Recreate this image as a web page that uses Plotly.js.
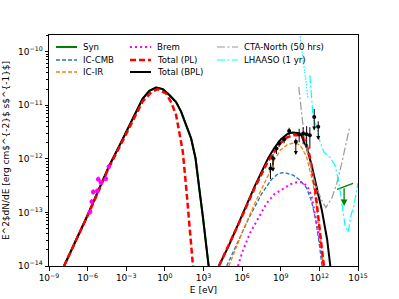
<!DOCTYPE html>
<html><head><meta charset="utf-8">
<script src="https://cdn.plot.ly/plotly-3.0.1.min.js"></script>
<style>html,body{margin:0;padding:0;background:#fff}#plot{width:399px;height:299px}</style>
</head><body><div id="plot"></div>
<script>
// ---- data: log10(E/eV) and log10(E^2 dN/dE / erg cm^-2 s^-1) ----
// Total (BPL), low-energy (synchrotron) hump
const bplLowLogE = [-7.83,-7,-6,-5,-4.32,-3.5,-3.02,-2.5,-2.0,-1.73,-1.21,-0.68,-0.17,0.35,0.87,1.26,1.65,2.04,2.38,2.56,2.69,2.95,3.21,3.4];
const bplLowLogF = [-14,-13.57,-13.05,-12.5,-12.13,-11.74,-11.51,-11.26,-11.01,-10.88,-10.73,-10.67,-10.70,-10.81,-10.94,-11.12,-11.37,-11.62,-11.99,-12.3,-12.59,-13.08,-13.58,-14];
// Total (BPL), high-energy hump
const bplHighLogE = [4.2,5,6,7,8,8.5,9,9.5,9.9,10.3,10.6,11.0,11.4,11.8,12.2,12.6,12.85];
const bplHighLogF = [-14,-13.6,-13.05,-12.5,-12.0,-11.8,-11.64,-11.54,-11.51,-11.52,-11.56,-11.78,-12.12,-12.52,-12.97,-13.5,-14];
// Total (PL)
const plLowLogE = [-7.83,-7,-6,-5,-4.32,-3.5,-3.02,-2.5,-2.0,-1.73,-1.07,-0.56,0.09,0.48,0.87,1.13,1.39,1.65,1.91,2.17,2.2];
const plLowLogF = [-14,-13.58,-13.06,-12.52,-12.15,-11.77,-11.54,-11.29,-11.04,-10.93,-10.76,-10.70,-10.78,-10.94,-11.18,-11.50,-11.86,-12.52,-13.25,-13.95,-14.05];
const plHighLogE = [4.2,5,6,7,8,9,9.5,10,10.5,10.8,11.0,11.26,11.65,11.91,12.18,12.35];
const plHighLogF = [-14,-13.6,-13.07,-12.53,-12.05,-11.7,-11.6,-11.56,-11.56,-11.63,-11.73,-11.96,-12.52,-13.08,-13.64,-14];
// IC-IR
const icirLogE = [4.97,5.5,6,7,8,8.5,9,9.5,9.9,10.3,10.6,11,11.5,12,12.3];
const icirLogF = [-14,-13.68,-13.38,-12.82,-12.32,-12.02,-11.83,-11.74,-11.71,-11.72,-11.78,-11.96,-12.45,-13.25,-14];
// IC-CMB
const iccmbLogE = [4.8,5.5,6.5,7.5,8.3,8.8,9.1,9.5,10,10.5,11,11.4,11.7,12,12.2];
const iccmbLogF = [-14,-13.63,-13.12,-12.66,-12.38,-12.28,-12.26,-12.27,-12.31,-12.4,-12.54,-12.8,-13.12,-13.6,-14];
// Brem
const bremLogE = [5.68,6,6.6,7.3,7.9,8.5,9.2,9.8,10.35,10.7,11.1,11.4,11.65,11.9,12.15,12.3];
const bremLogF = [-14,-13.75,-13.39,-13.08,-12.83,-12.66,-12.55,-12.47,-12.43,-12.44,-12.52,-12.71,-13.02,-13.33,-13.72,-14];
// CTA-North (50 hrs) sensitivity
const ctaLogE = [10.4,10.74,11.13,11.65,12.18,12.5,12.96,13.35,13.73,14.12,14.33];
const ctaLogF = [-10.66,-11.40,-11.96,-12.46,-12.77,-12.91,-12.74,-12.46,-12.09,-11.65,-11.43];
// LHAASO (1 yr) sensitivity
const lhaasoSteepLogE = [10.42,11.12];
const lhaasoSteepLogF = [-9.55,-10.87];
const lhaasoLogE = [11.26,11.52,11.79,12.04,12.36,12.82,13.21,13.45,13.60,13.76,13.99,14.23,14.46,14.69,14.85,15.0];
const lhaasoLogF = [-10.44,-11.25,-11.40,-11.67,-11.88,-11.97,-12.12,-12.36,-12.58,-12.86,-13.24,-13.37,-13.05,-12.86,-12.62,-12.45];
// green upper-limit segment
const synUlLogE = [13.37,14.62];
const synUlLogF = [-12.57,-12.46];
const synUlArrowLogE = 13.92, synUlArrowLogF = -12.52;
// magenta low-energy data points
const optLogE = [-5.80,-5.69,-5.57,-5.26,-5.18,-4.97,-4.58,-4.36];
const optLogF = [-12.99,-12.80,-12.62,-12.60,-12.38,-12.44,-12.37,-12.15];
const optErrDex = [0.05,0.05,0.05,0.05,0.05,0.05,0.05,0.05];
// black gamma-ray data points
const gamLogE = [8.20,8.40,8.67,8.87,9.26,9.65,10.17,10.43,10.74,11.01,11.26,11.60,11.91];
const gamLogF = [-12.18,-11.99,-11.81,-11.71,-11.64,-11.48,-11.68,-11.54,-11.53,-11.54,-11.56,-11.22,-11.40];
const gamErrUpDex = [0.10,0.08,0.07,0.06,0.06,0.06,0.06,0.10,0.12,0.15,0.15,0.15,0.10];
const gamErrDnDex = [0.20,0.12,0.10,0.07,0.07,0.07,0.06,0.15,0.20,0.25,0.25,0.0,0.0];
const gamIsUL = [0,1,0,0,0,0,1,0,0,0,0,1,1];
// tick labels
const xTickExp = [-9,-6,-3,0,3,6,9,12,15];
const yTickExp = [-14,-13,-12,-11,-10];

const P = v => Math.pow(10, v);
const sup = e => '10<sup>' + (e < 0 ? '\u2212' + (-e) : e) + '</sup>';

function line(lx, ly, color, width, dash, name) {
  return {x: lx.map(P), y: ly.map(P), mode: 'lines', name: name, showlegend: false,
          line: {color: color, width: width, dash: dash}, hoverinfo: 'skip'};
}
const C = {syn:'#008000', cmb:'#1f77b4', ir:'#ff7f0e', brem:'#ff00ff', pl:'#ff0000', bpl:'#000000', cta:'#999999', lh:'#00ffff'};
const D = {cmb:'4px,2px', ir:'4px,2px', brem:'2px,3px', pl:'6px,3px', cta:'8px,2.5px,2px,2.5px', lh:'8px,2.5px,2px,2.5px'};

const traces = [
  line(bplLowLogE, bplLowLogF, C.syn, 2, 'solid', 'Syn'),
  line(synUlLogE, synUlLogF, C.syn, 1.3, 'solid', 'Syn UL'),
  line(iccmbLogE, iccmbLogF, C.cmb, 1.3, D.cmb, 'IC-CMB'),
  line(icirLogE, icirLogF, C.ir, 1.3, D.ir, 'IC-IR'),
  line(bremLogE, bremLogF, C.brem, 2, D.brem, 'Brem'),
  line(bplLowLogE, bplLowLogF, C.bpl, 2, 'solid', 'Total (BPL)'),
  line(bplHighLogE, bplHighLogF, C.bpl, 2, 'solid', 'Total (BPL)'),
  line(plLowLogE, plLowLogF, C.pl, 2.5, D.pl, 'Total (PL)'),
  line(plHighLogE, plHighLogF, C.pl, 2.5, D.pl, 'Total (PL)'),
  line(ctaLogE, ctaLogF, C.cta, 1.2, D.cta, 'CTA-North (50 hrs)'),
  line(lhaasoSteepLogE, lhaasoSteepLogF, C.lh, 1.2, '1.5px,1.5px', 'LHAASO (1 yr)'),
  line(lhaasoLogE, lhaasoLogF, C.lh, 1.2, D.lh, 'LHAASO (1 yr)'),
  {x: optLogE.map(P), y: optLogF.map(P), mode: 'markers', showlegend: false, hoverinfo: 'skip',
   marker: {color: C.brem, size: 4.5},
   error_y: {type: 'data', symmetric: false,
             array: optLogF.map((f, i) => P(f + optErrDex[i]) - P(f)),
             arrayminus: optLogF.map((f, i) => P(f) - P(f - optErrDex[i])),
             color: C.brem, thickness: 1.2, width: 0},
   error_x: {type: 'data', symmetric: false,
             array: optLogE.map(e => P(e + 0.06) - P(e)),
             arrayminus: optLogE.map(e => P(e) - P(e - 0.06)),
             color: C.brem, thickness: 1.2, width: 0}},
  {x: gamLogE.map(P), y: gamLogF.map(P), mode: 'markers', showlegend: false, hoverinfo: 'skip',
   marker: {color: '#000', size: 4},
   error_y: {type: 'data', symmetric: false,
             array: gamLogF.map((f, i) => P(f + gamErrUpDex[i]) - P(f)),
             arrayminus: gamLogF.map((f, i) => P(f) - P(f - gamErrDnDex[i])),
             color: '#000', thickness: 1, width: 0}}
];

const annotations = [];
gamLogE.forEach((e, i) => {
  if (!gamIsUL[i]) return;
  annotations.push({x: e, y: gamLogF[i] - 0.25, ax: e, ay: gamLogF[i], axref: 'x', ayref: 'y',
    xref: 'x', yref: 'y', text: '', showarrow: true, arrowhead: 2, arrowsize: 0.8, arrowwidth: 1, arrowcolor: '#000'});
});
annotations.push({x: synUlArrowLogE, y: synUlArrowLogF - 0.36, ax: synUlArrowLogE, ay: synUlArrowLogF,
  axref: 'x', ayref: 'y', xref: 'x', yref: 'y', text: '', showarrow: true, arrowhead: 2, arrowsize: 1, arrowwidth: 1.3, arrowcolor: C.syn});

// manual legend (matplotlib-style 3 columns)
const L = 49, R = 358, T = 35, B = 266;
const px = x => (x - L) / (R - L), py = y => (B - y) / (B - T);
const legendItems = [
  ['Syn', C.syn, 'solid', 2, 56, 47], ['IC-CMB', C.cmb, D.cmb, 1.3, 56, 60], ['IC-IR', C.ir, D.ir, 1.3, 56, 72],
  ['Brem', C.brem, D.brem, 2, 130, 47], ['Total (PL)', C.pl, D.pl, 2.5, 130, 60], ['Total (BPL)', C.bpl, 'solid', 2, 130, 72],
  ['CTA-North (50 hrs)', C.cta, D.cta, 1.2, 217, 47], ['LHAASO (1 yr)', C.lh, D.lh, 1.2, 217, 60]
];
const shapes = [];
legendItems.forEach(([name, col, dash, w, x0, y]) => {
  shapes.push({type: 'line', xref: 'paper', yref: 'paper', x0: px(x0), x1: px(x0 + 21), y0: py(y), y1: py(y),
               line: {color: col, width: w, dash: dash}});
  annotations.push({xref: 'paper', yref: 'paper', x: px(x0 + 25), y: py(y), xanchor: 'left', yanchor: 'middle',
                    text: name, showarrow: false, font: {size: 8.6, color: '#000'}});
});

const minorY = [];
for (let k = -14; k < -9; k++) for (let m = 2; m <= 9; m++) if (k + Math.log10(m) < -9.69) minorY.push(m * P(k));

const axisCommon = {type: 'log', showgrid: false, zeroline: false, showline: true, mirror: true,
  linecolor: '#000', linewidth: 1, ticks: 'outside', ticklen: 3.5, tickwidth: 1, tickcolor: '#000',
  tickfont: {size: 9, color: '#000'}, tickmode: 'array'};

const layout = {
  width: 399, height: 299, margin: {l: L, r: 399 - R, t: T, b: 299 - B},
  paper_bgcolor: '#fff', plot_bgcolor: '#fff', showlegend: false,
  font: {family: 'DejaVu Sans, sans-serif', color: '#000'},
  xaxis: Object.assign({}, axisCommon, {range: [-9, 15], tickvals: xTickExp.map(P), ticktext: xTickExp.map(sup),
    title: {text: 'E [eV]', font: {size: 9}, standoff: 4}}),
  yaxis: Object.assign({}, axisCommon, {range: [-14, -9.69], tickvals: yTickExp.map(P), ticktext: yTickExp.map(sup),
    minor: {tickmode: 'array', tickvals: minorY, ticks: 'outside', ticklen: 2, tickcolor: '#000', showgrid: false},
    title: {text: 'E^2$dN/dE [erg cm$^{-2}$ s$^{-1}$]', font: {size: 9}, standoff: 6}}),
  shapes: shapes, annotations: annotations
};
Plotly.newPlot('plot', traces, layout, {displayModeBar: false, staticPlot: true});
</script>
</body></html>
